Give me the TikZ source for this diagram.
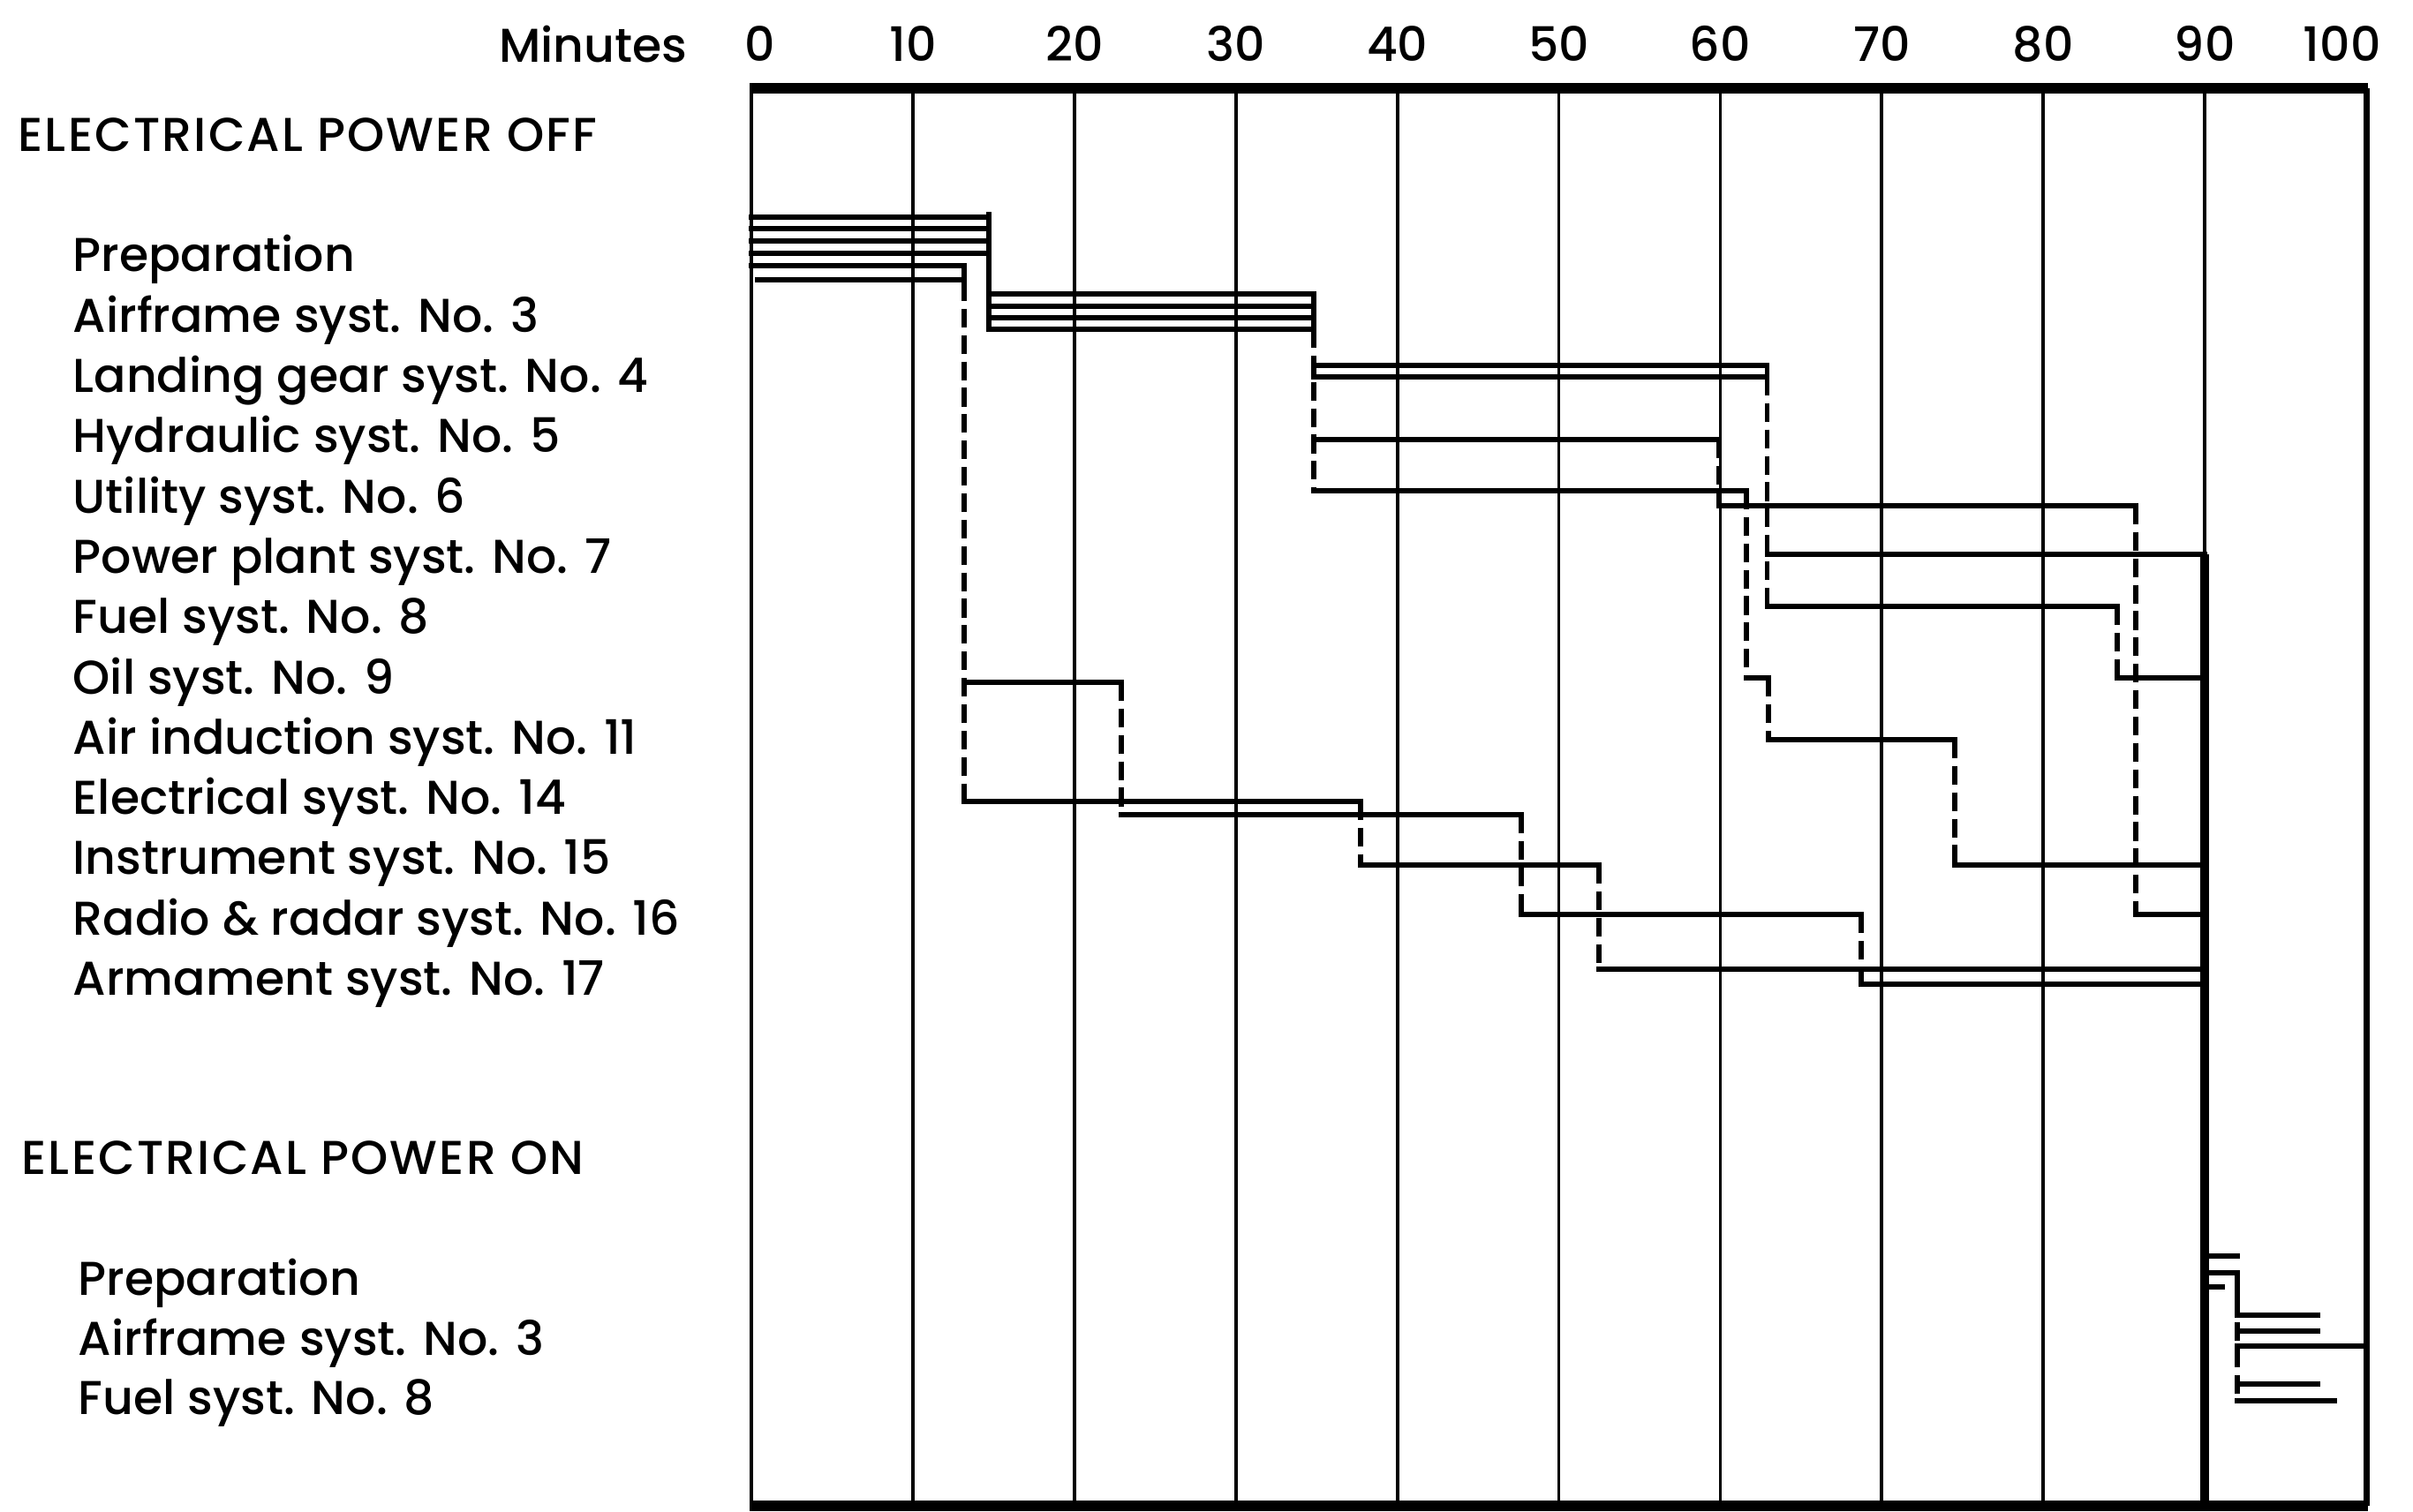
\documentclass[tikz,border=0pt]{standalone}
\usepackage{fontspec}
\setmainfont{Poppins}[UprightFont={* Medium}]
\usetikzlibrary{positioning}

\tikzset{
  gridline/.style={line width=1.1pt},
  bar/.style={line width=1.7pt, line cap=rect},
  walk/.style={line width=1.7pt, dash pattern=on 6pt off 2.5pt},
  lbl/.style={anchor=base west, inner sep=0pt, font=\fontsize{15.3}{18}\selectfont},
  head/.style={lbl, font=\fontsize{15.3}{18}\selectfont\addfontfeatures{LetterSpace=4}},
  tick/.style={anchor=base, inner sep=0pt, font=\fontsize{15.3}{18}\selectfont},
}

\begin{document}
\begin{tikzpicture}[y=-1cm]
  \useasboundingbox (0,0) rectangle (27.33,17.13);

  % row labels
  \node[head] (hdoff) at (0.20,1.72) {ELECTRICAL POWER OFF};
  \foreach \t [count=\i from 0] in {Preparation, Airframe syst. No. 3,
      Landing gear syst. No. 4, Hydraulic syst. No. 5, Utility syst. No. 6,
      Power plant syst. No. 7, Fuel syst. No. 8, Oil syst. No. 9,
      Air induction syst. No. 11, Electrical syst. No. 14,
      Instrument syst. No. 15, Radio \& radar syst. No. 16,
      Armament syst. No. 17}
    \node[lbl] (off\i) at (0.82,{3.08+0.683*\i}) {\t};

  \node[head] (hdon) at (0.24,13.31) {ELECTRICAL POWER ON};
  \foreach \t [count=\i from 0] in {Preparation, Airframe syst. No. 3, Fuel syst. No. 8}
    \node[lbl] (on\i) at (0.88,{14.68+0.675*\i}) {\t};

  \begin{scope}[shift={(8.51,0)}, x=0.1829cm]
    % time scale
    \foreach \m/\x in {0/0.55,10/10,20/20,30/30,40/40,50/50,60/60,70/70,80/80,90/90,100/98.5}
      \node[tick] (t\m) at (\x,0.70) {\m};
    \node[left=0.64cm of t0, tick, anchor=east] (minutes) {Minutes};

    % frame and grid
    \foreach \m in {10,20,...,90}
      \draw[gridline] (\m,1.0) -- (\m,17.06);
    \draw[line width=1.4pt] (0,1.0) -- (0,17.06);
    \draw[line width=2pt] (100,1.0) -- (100,17.06);
    \draw[line width=3.2pt] (-0.1,1.0) -- (100.1,1.0);
    \draw[line width=3.6pt] (-0.1,17.06) -- (100.1,17.06);

    % preparation
    \foreach \y in {2.46,2.59,2.73,2.87}
      \draw[bar] (0,\y) -- (14.7,\y);
    \draw[bar] (0,3.01) -- (13.2,3.01) -- (13.2,3.20);
    \draw[bar] (0.4,3.17) -- (13.2,3.17);
    \draw[bar] (14.7,2.43) -- (14.7,3.10);
    \draw[walk] (14.7,3.10) -- (14.7,3.33);

    % airframe
    \foreach \y in {3.33,3.47,3.60,3.73}
      \draw[bar] (14.7,\y) -- (34.8,\y);
    \draw[bar] (14.7,3.33) -- (14.7,3.73);
    \draw[bar] (34.8,3.33) -- (34.8,3.73);
    \draw[walk] (34.8,3.73) -- (34.8,5.56);

    % landing gear, then power plant and fuel
    \draw[bar] (34.8,4.14) -- (62.9,4.14) -- (62.9,4.27) -- (34.8,4.27);
    \draw[walk] (62.9,4.27) -- (62.9,6.87);
    \draw[bar] (62.9,6.28) -- (90,6.28);
    \draw[bar] (62.9,6.87) -- (84.6,6.87);
    \draw[walk] (84.6,6.87) -- (84.6,7.68);
    \draw[bar] (84.6,7.68) -- (90,7.68);

    % hydraulic
    \draw[bar] (34.8,4.98) -- (59.9,4.98);
    \draw[walk] (59.9,4.98) -- (59.9,5.73);
    \draw[bar] (59.9,5.73) -- (85.7,5.73);
    \draw[walk] (85.7,5.73) -- (85.7,10.36);
    \draw[bar] (85.7,10.36) -- (90,10.36);

    % utility
    \draw[bar] (34.8,5.56) -- (61.6,5.56);
    \draw[walk] (61.6,5.56) -- (61.6,7.68);
    \draw[bar] (61.6,7.68) -- (63.0,7.68);
    \draw[walk] (63.0,7.68) -- (63.0,8.38);
    \draw[bar] (63.0,8.38) -- (74.5,8.38);
    \draw[walk] (74.5,8.38) -- (74.5,9.80);
    \draw[bar] (74.5,9.80) -- (90,9.80);

    % the two going straight down from preparation
    \draw[walk] (13.2,3.20) -- (13.2,9.08);
    \draw[bar] (13.2,7.73) -- (22.9,7.73);
    \draw[bar] (13.2,9.08) -- (37.7,9.08);
    \draw[walk] (22.9,7.73) -- (22.9,9.23);
    \draw[bar] (22.9,9.23) -- (47.7,9.23);
    \draw[walk] (37.7,9.08) -- (37.7,9.80);
    \draw[bar] (37.7,9.80) -- (52.5,9.80);
    \draw[walk] (47.7,9.23) -- (47.7,10.36);
    \draw[bar] (47.7,10.36) -- (68.7,10.36);
    \draw[walk] (52.5,9.80) -- (52.5,10.98);
    \draw[bar] (52.5,10.98) -- (90,10.98);
    \draw[walk] (68.7,10.36) -- (68.7,11.15);
    \draw[bar] (68.7,11.15) -- (90,11.15);

    % at 90 min everyone goes on to power on
    \draw[line width=2.8pt] (90,6.28) -- (90,17.06);

    % power on
    \draw[bar] (90,14.23) -- (92.0,14.23);
    \draw[bar] (90,14.42) -- (92.0,14.42) -- (92.0,14.68);
    \draw[bar] (90,14.58) -- (91.1,14.58);
    \draw[walk] (92.0,14.68) -- (92.0,15.87);
    \foreach \y/\e in {14.90/97.0,15.08/97.0,15.25/100,15.68/97.0,15.87/98.0}
      \draw[bar] (92.0,\y) -- (\e,\y);
  \end{scope}
\end{tikzpicture}
\end{document}
